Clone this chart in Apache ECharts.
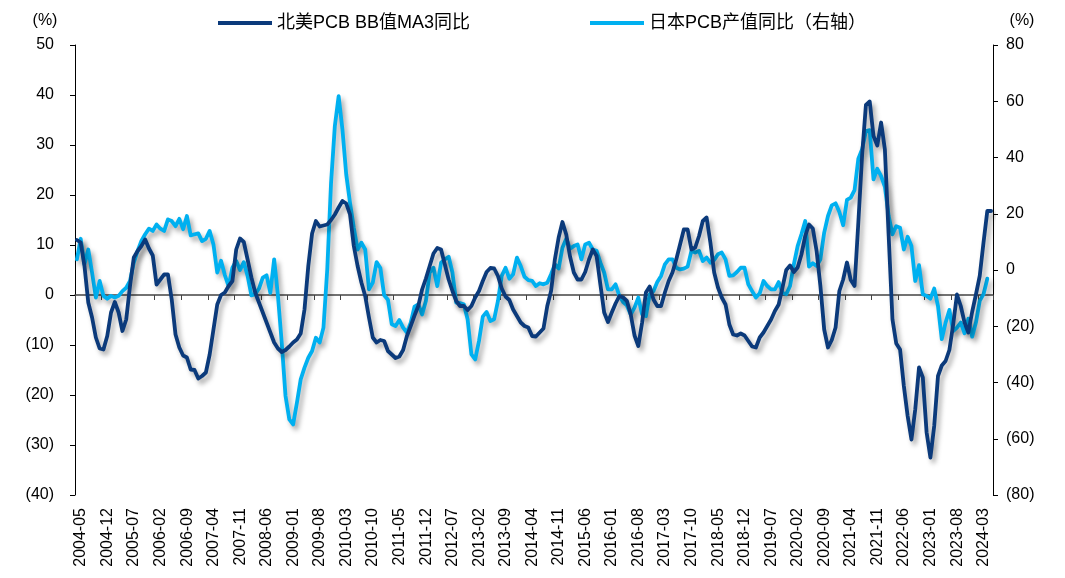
<!DOCTYPE html>
<html>
<head>
<meta charset="utf-8">
<script src="https://cdn.jsdelivr.net/npm/echarts@6/dist/echarts.min.js"></script>
<style>
  html, body { margin: 0; padding: 0; background: #fff; }
  #chart { width: 1065px; height: 578px; }
</style>
</head>
<body>
<div id="chart"></div>
<script>
// monthly, 2004-05 .. 2024-06
const startYear = 2004;
const startMonth = 5;
const monthCount = 242;

// 北美PCB BB值MA3同比 (left axis, %)
const naBBValues = [
  11, 10.5, 5.8, -1.5, -4.5, -8.5, -10.7, -10.9, -8.2, -3.5,
  -1.4, -3.5, -7.2, -4.9, 1.8, 7.5, 8.8, 9.8, 11.1, 9.3,
  7.9, 2.1, 3.1, 4.1, 4.1, -0.9, -7.9, -10.5, -12.1, -12.5,
  -14.9, -15, -16.7, -16.2, -15.5, -11.9, -6.9, -1.9, 0, 0.5,
  1.8, 2.8, 9.1, 11.3, 10.6, 7.1, 3.5, 0.5, -1.5, -3.5,
  -5.5, -7.5, -9.5, -10.7, -11.4, -11, -10.3, -9.5, -8.9, -7.7,
  -2.9, 5.8, 12.3, 14.8, 13.7, 13.9, 14.1, 15, 16.1, 17.5,
  18.8, 18.3, 16.1, 9.8, 5.8, 2.5, -0.2, -4.5, -8.5, -9.5,
  -9, -9.2, -11.2, -11.9, -12.6, -12.3, -11, -8.2, -6.2, -4.1,
  -2.2, 1.1, 3.3, 5.8, 8.3, 9.4, 9.1, 6.1, 3.1, 0.8,
  -1.2, -2.2, -2.2, -3, -2.2, -0.5, 0.8, 2.8, 4.6, 5.4,
  5.3, 3.8, 1.3, -0.3, -1, -2.9, -4.2, -5.5, -6.2, -6.5,
  -8.2, -8.3, -7.5, -6.7, -2.2, 0.8, 7.1, 11.5, 14.6, 12.1,
  7.7, 4.5, 3.1, 3.1, 4.6, 7.1, 9.1, 7.8, 2.1, -3.5,
  -5.4, -3.5, -1.7, -0.2, -0.5, -1.2, -3.9, -8.1, -10.2, -5.5,
  0.5, 1.7, -0.9, -2.2, -2.2, 0.5, 2.8, 4.5, 7.1, 10.1,
  13.1, 13.1, 9.1, 9.5, 11.8, 14.8, 15.5, 10.5, 4.5, 1.5,
  -0.5, -1.9, -5.9, -7.9, -8.1, -7.7, -8.1, -9.2, -10.3, -10.5,
  -8.5, -7.5, -6.2, -4.9, -3.2, -1.9, 1.5, 5, 5.9, 4.6,
  5.5, 8.1, 11.8, 14.1, 13.3, 8.8, 1.8, -6.9, -10.5, -9,
  -6.5, 0.8, 3.1, 6.5, 3, 1.8, 14.5, 28, 38, 38.7,
  31.8, 29.9, 34.5, 29.1, 11.8, -4.9, -9.7, -10.9, -18.2, -24.2,
  -28.9, -22.9, -14.5, -16.5, -27.5, -32.5, -26.2, -16.2, -14.1, -13.2,
  -11, -5.9, 0.1, -2.2, -5.5, -7.5, -3.4, 0.1, 3.8, 10.5,
  16.8, 16.8
];

// 日本PCB产值同比 (right axis, %)
const jpPCBValues = [
  3.8, 11.1, 2, 7.3, -0.9, -9.8, -3.9, -9.2, -10.2, -9.2,
  -9.8, -9.2, -7.5, -6.3, -3.9, 2.6, 6.8, 10.3, 12.7, 14.7,
  13.9, 16.2, 14.7, 13.9, 18, 17.4, 15.6, 18.2, 14.5, 19.2,
  12.3, 12.7, 13, 10.3, 11.1, 13.9, 9.1, -0.9, 3.3, -1.8,
  -5.7, 0.8, 3.2, 0, 2.8, -2.1, -9, -8.6, -6.6, -2.7,
  -1.9, -8.1, 3.8, -9.2, -25.8, -44.8, -53.1, -54.9, -47.2, -38.9,
  -34.7, -31.2, -28.8, -24.1, -25.8, -20.5, 0.2, 31, 51.2, 61.8,
  50, 34, 23.9, 15, 7.3, 9.7, 7.3, -6.9, -4.5, 2.8,
  0.7, -9, -10.6, -19.3, -19.9, -17.8, -20.5, -22.3, -18.7, -13,
  -12.2, -15.8, -11, -0.9, 0.8, -5.7, 2.6, 3.8, 4.7, -0.9,
  -11.6, -11.8, -12.2, -17.5, -30, -31.8, -25.2, -16.6, -14.9, -18.1,
  -17.5, -11, -2.1, 0.8, -3.1, -1.5, 4.4, 1.4, -2.4, -3.6,
  -3.9, -5.7, -4.7, -5.1, -4.5, -1.5, 2, 0.5, 7.9, 11.1,
  7.6, 8.5, 9.1, 3.8, 9.1, 9.7, 7.3, 6.8, 2.6, -0.9,
  -6.9, -6.9, -5.1, -9.2, -11.4, -12.6, -15.8, -13.4, -9.8, -15.8,
  -16.4, -8.6, -7.5, -4.3, -2.1, 2, 3.8, 3.8, 0.8, 0.2,
  0.5, 1.2, 6.8, 6.2, 6.8, 3.2, 4.4, 2.6, 3.6, 5.6,
  6.2, 3.8, -2.1, -1.9, -0.7, 0.8, 0.8, -5.1, -7.5, -9.8,
  -8.3, -3.9, -5.7, -6.9, -6.9, -4.3, -8.1, -8.6, -5.7, 2,
  8.5, 12.7, 17.4, 1.2, 2.4, 1.4, 3.8, 13.3, 19.2, 23,
  23.7, 20.6, 15.9, 24.9, 25.7, 28.4, 39.6, 42.9, 49.4, 49.7,
  32.2, 36, 33.4, 29.6, 19.2, 12.7, 15.6, 15, 7.3, 11.8,
  8.5, -3.9, 1.7, -8.6, -9.2, -10.2, -6.6, -12.8, -24.6, -18.7,
  -14.2, -21.7, -20.5, -18.7, -22.5, -17.3, -23.7, -18.7, -11, -8.6,
  -3.1, null
];

const months = [];
for (let k = 0; k < monthCount; k++) {
  const m = startMonth - 1 + k;
  const y = startYear + Math.floor(m / 12);
  const mm = (m % 12) + 1;
  months.push(y + "-" + (mm < 10 ? "0" + mm : mm));
}

const FONT = "'Liberation Sans', Arial, 'Noto Sans CJK SC', sans-serif";
const darkBlue = "#0b3a7b";
const lightBlue = "#00b0f0";

const paren = (v) => (v < 0 ? "(" + -v + ")" : String(v));

const lineShadow = {
  shadowColor: "rgba(0,0,0,0.35)",
  shadowBlur: 5,
  shadowOffsetX: 3,
  shadowOffsetY: 4,
};

const legendText = { fontSize: 18, fontFamily: FONT, color: "#000" };

const chart = echarts.init(document.getElementById("chart"));

chart.setOption({
  animation: false,
  backgroundColor: "#fff",
  textStyle: { fontFamily: FONT, color: "#000" },
  grid: [
    { left: 75, right: 72, top: 45, bottom: 83 },
    // labels-only grid, nudged right like the Excel labels
    { left: 79, right: 68, top: 45, bottom: 83 },
  ],
  legend: [
    {
      data: ["北美PCB BB值MA3同比"],
      left: 213,
      top: 9,
      icon: "rect",
      itemWidth: 54,
      itemHeight: 4,
      textStyle: legendText,
    },
    {
      data: ["日本PCB产值同比（右轴）"],
      left: 585,
      top: 9,
      icon: "rect",
      itemWidth: 54,
      itemHeight: 4,
      textStyle: legendText,
    },
  ],
  xAxis: [
    {
      type: "category",
      gridIndex: 0,
      data: months,
      boundaryGap: true,
      position: "bottom",
      axisLine: {
        show: true,
        onZero: true,
        onZeroAxisIndex: 0,
        lineStyle: { color: "#444", width: 1.5 },
      },
      axisTick: {
        show: true,
        interval: 6,
        length: 5,
        lineStyle: { color: "#444", width: 1 },
      },
      axisLabel: { show: false },
      splitLine: { show: false },
    },
    {
      type: "category",
      gridIndex: 1,
      data: months,
      boundaryGap: true,
      position: "bottom",
      axisLine: { show: false, onZero: false },
      axisTick: { show: false },
      axisLabel: {
        interval: 6,
        rotate: 90,
        margin: 13,
        fontSize: 16,
        color: "#000",
        fontFamily: FONT,
      },
      splitLine: { show: false },
    },
  ],
  yAxis: [
    {
      type: "value",
      gridIndex: 0,
      min: -40,
      max: 50,
      interval: 10,
      name: "(%)",
      nameLocation: "end",
      nameGap: 16,
      nameTextStyle: { fontSize: 16, color: "#000", padding: [0, 60, 0, 0] },
      axisLine: { show: true, lineStyle: { color: "#000", width: 1 } },
      axisTick: { show: true, length: 5, lineStyle: { color: "#000" } },
      axisLabel: { formatter: paren, fontSize: 16, color: "#000", margin: 21 },
      splitLine: { show: false },
    },
    {
      type: "value",
      gridIndex: 0,
      min: -80,
      max: 80,
      interval: 20,
      position: "right",
      name: "(%)",
      nameLocation: "end",
      nameGap: 16,
      nameTextStyle: { fontSize: 16, color: "#000", padding: [0, 0, 0, 58] },
      axisLine: { show: true, lineStyle: { color: "#000", width: 1 } },
      axisTick: { show: true, length: 5, lineStyle: { color: "#000" } },
      axisLabel: { formatter: paren, fontSize: 16, color: "#000", margin: 13 },
      splitLine: { show: false },
    },
    {
      type: "value",
      gridIndex: 1,
      show: false,
    },
  ],
  series: [
    {
      name: "北美PCB BB值MA3同比",
      type: "line",
      xAxisIndex: 0,
      yAxisIndex: 0,
      data: naBBValues,
      showSymbol: false,
      symbol: "none",
      itemStyle: { color: darkBlue },
      lineStyle: Object.assign({ color: darkBlue, width: 3.8, cap: "round", join: "round" }, lineShadow),
      z: 3,
    },
    {
      name: "日本PCB产值同比（右轴）",
      type: "line",
      xAxisIndex: 0,
      yAxisIndex: 1,
      data: jpPCBValues,
      showSymbol: false,
      symbol: "none",
      itemStyle: { color: lightBlue },
      lineStyle: Object.assign({ color: lightBlue, width: 3.8, cap: "round", join: "round" }, lineShadow),
      z: 2,
    },
  ],
});
</script>
</body>
</html>
